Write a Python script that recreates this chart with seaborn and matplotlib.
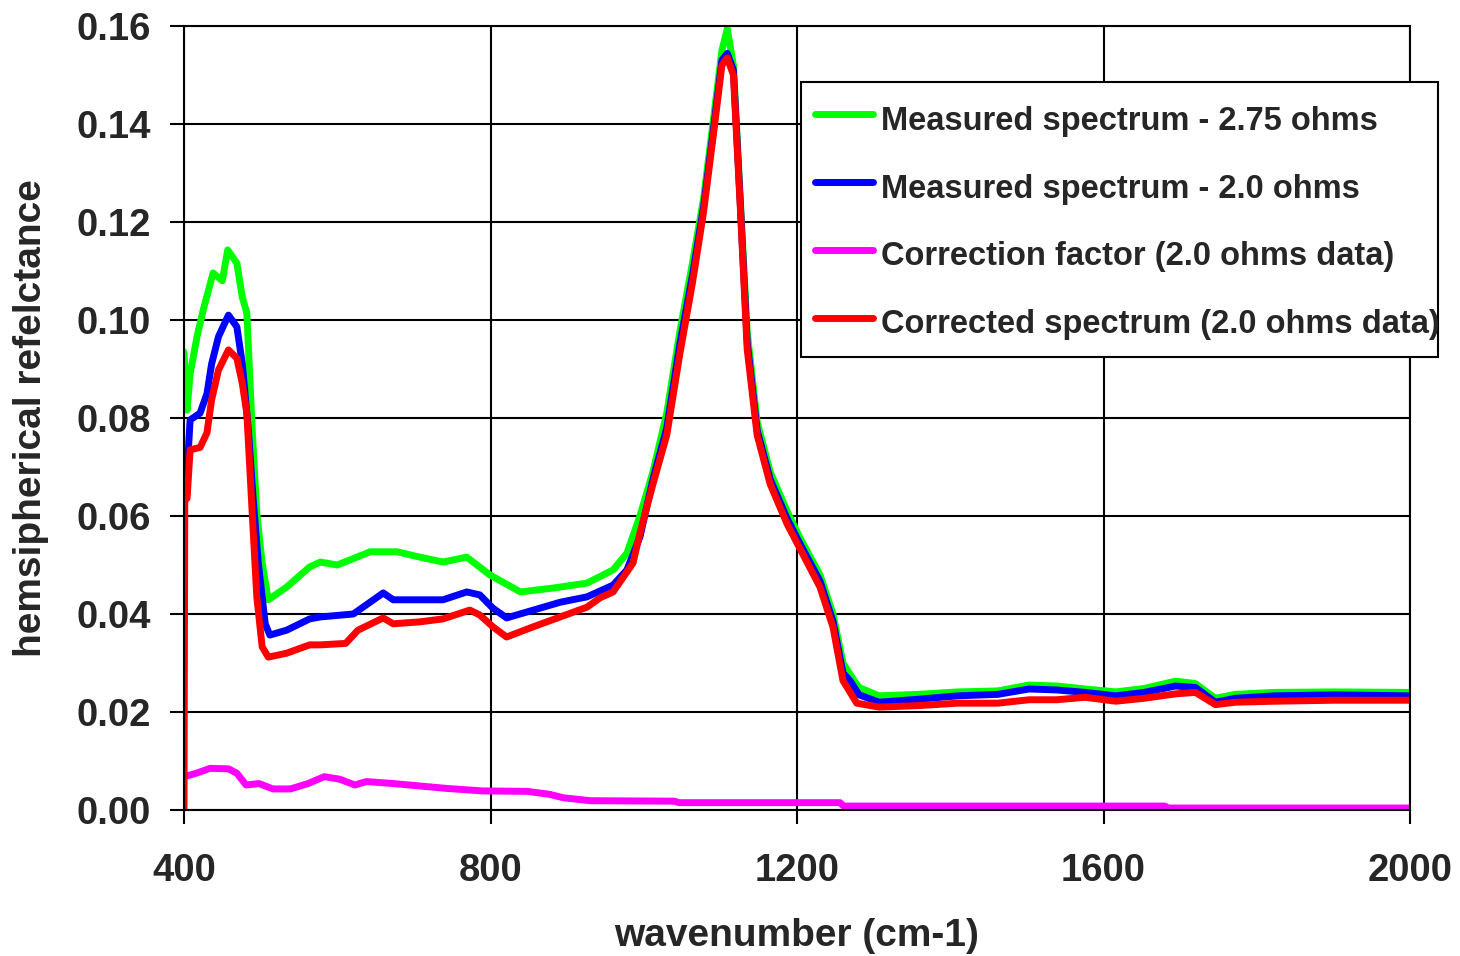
import matplotlib
matplotlib.use("Agg")
import matplotlib.pyplot as plt
from matplotlib.patches import Rectangle
from matplotlib.ticker import FormatStrFormatter
import seaborn as sns
import pandas as pd

# values
green_x = [400, 404, 408, 417, 425, 438, 450, 457, 469, 476, 482, 489, 495, 502, 510,
           534, 564, 578, 600, 643, 678, 708, 738, 769, 799, 839, 882, 926, 960, 978,
           995, 1012, 1030, 1047, 1064, 1078, 1091, 1102, 1109, 1117, 1126, 1135, 1148,
           1165, 1187, 1204, 1230, 1247, 1260, 1270, 1281, 1307, 1358, 1410, 1462, 1503,
           1539, 1576, 1616, 1653, 1694, 1720, 1746, 1772, 1823, 1901, 2000]
green_y = [0.0935, 0.0816, 0.089, 0.0966, 0.102, 0.1096, 0.108, 0.1143, 0.1116, 0.1047,
           0.1014, 0.0776, 0.0606, 0.0504, 0.0429, 0.0455, 0.0496, 0.0506, 0.0500, 0.0527,
           0.0527, 0.0516, 0.0506, 0.0516, 0.0480, 0.0445, 0.0453, 0.0463, 0.0490, 0.0524,
           0.0600, 0.069, 0.081, 0.0975, 0.112, 0.1247, 0.141, 0.155, 0.1594, 0.152,
           0.1247, 0.0976, 0.0792, 0.069, 0.061, 0.0555, 0.048, 0.040, 0.030, 0.0275,
           0.025, 0.0233, 0.0236, 0.0241, 0.0243, 0.0255, 0.0253, 0.0247, 0.0241, 0.0248,
           0.0263, 0.0258, 0.0228, 0.0236, 0.0240, 0.0241, 0.0240]

blue_x = [400, 404, 408, 421, 430, 436, 445, 458, 469, 476, 484, 490, 497, 506, 512,
          534, 564, 578, 621, 660, 673, 708, 738, 769, 786, 803, 821, 856, 891, 926,
          960, 978, 995, 1012, 1030, 1047, 1064, 1078, 1091, 1102, 1109, 1117, 1126,
          1135, 1148, 1165, 1187, 1204, 1230, 1247, 1260, 1270, 1281, 1307, 1358, 1410,
          1462, 1503, 1539, 1576, 1616, 1653, 1694, 1720, 1746, 1772, 1823, 1901, 2000]
blue_y = [0.0655, 0.069, 0.0796, 0.081, 0.085, 0.091, 0.0966, 0.101, 0.0986, 0.0912,
          0.0776, 0.064, 0.0504, 0.038, 0.0357, 0.0367, 0.039, 0.0394, 0.0400, 0.0443,
          0.0429, 0.0429, 0.0429, 0.0445, 0.0439, 0.0412, 0.0392, 0.0408, 0.0424, 0.0435,
          0.0459, 0.0490, 0.0557, 0.0675, 0.078, 0.095, 0.1095, 0.123, 0.139, 0.153,
          0.1544, 0.151, 0.1238, 0.0955, 0.0775, 0.0675, 0.0595, 0.0543, 0.0467, 0.0385,
          0.028, 0.0262, 0.0235, 0.0220, 0.0226, 0.0233, 0.0236, 0.0247, 0.0245, 0.0240,
          0.0233, 0.0240, 0.0253, 0.0250, 0.0220, 0.0228, 0.0233, 0.0235, 0.0233]

magenta_x = [400, 416, 434, 458, 469, 481, 498, 516, 539, 562, 583, 603, 623, 638, 673,
             708, 743, 789, 848, 877, 895, 930, 1040, 1046, 1256, 1261, 1680, 1685, 2000]
magenta_y = [0.0068, 0.0075, 0.0085, 0.0084, 0.0075, 0.0051, 0.0054, 0.0043, 0.0043,
             0.0054, 0.0068, 0.0063, 0.0051, 0.0058, 0.0054, 0.0049, 0.0044, 0.0039,
             0.0038, 0.0032, 0.0025, 0.0019, 0.0018, 0.0015, 0.0015, 0.0008, 0.0008,
             0.0004, 0.0004]

red_x = [400, 401, 404, 408, 421, 430, 436, 445, 458, 469, 476, 482, 489, 495, 502, 510,
         534, 564, 578, 611, 627, 660, 673, 708, 738, 773, 786, 803, 821, 856, 891, 926,
         943, 960, 986, 995, 1012, 1030, 1047, 1064, 1078, 1091, 1102, 1109, 1117, 1126,
         1135, 1148, 1165, 1187, 1204, 1230, 1247, 1260, 1278, 1307, 1358, 1410, 1462,
         1503, 1539, 1576, 1616, 1653, 1694, 1720, 1746, 1772, 1823, 1901, 2000]
red_y = [0.0, 0.0633, 0.0636, 0.0735, 0.074, 0.077, 0.0837, 0.0898, 0.0939, 0.0922,
         0.0871, 0.081, 0.0606, 0.0435, 0.0333, 0.0312, 0.032, 0.0337, 0.0337, 0.0340,
         0.0367, 0.0392, 0.038, 0.0384, 0.0390, 0.0408, 0.0398, 0.0374, 0.0353, 0.0374,
         0.0394, 0.0414, 0.0433, 0.0445, 0.0504, 0.0565, 0.0665, 0.0765, 0.093, 0.108,
         0.122, 0.138, 0.152, 0.1535, 0.150, 0.123, 0.094, 0.0765, 0.0665, 0.0584,
         0.0533, 0.0455, 0.0373, 0.0264, 0.0218, 0.0210, 0.0213, 0.0218, 0.0218, 0.0225,
         0.0225, 0.0230, 0.0222, 0.0228, 0.0237, 0.0240, 0.0215, 0.0220, 0.0222, 0.0224,
         0.0224]

labels = ['Measured spectrum - 2.75 ohms',
          'Measured spectrum - 2.0 ohms',
          'Correction factor (2.0 ohms data)',
          'Corrected spectrum (2.0 ohms data)']
colors = ['#00ff00', '#0000ff', '#ff00ff', '#ff0000']

x_ticks = [400, 800, 1200, 1600, 2000]
y_ticks = [0.00, 0.02, 0.04, 0.06, 0.08, 0.10, 0.12, 0.14, 0.16]


def _series_frame():
    parts = []
    for lab, xs, ys in zip(labels,
                           [green_x, blue_x, magenta_x, red_x],
                           [green_y, blue_y, magenta_y, red_y]):
        parts.append(pd.DataFrame({'wavenumber': xs, 'value': ys, 'series': lab}))
    return pd.concat(parts, ignore_index=True)


sns.set_theme(style="white")
plt.rcParams['font.family'] = ['Liberation Sans', 'DejaVu Sans']
plt.rcParams['font.weight'] = 'bold'

df = _series_frame()

W, H = 1460, 956
fig = plt.figure(figsize=(W / 100, H / 100), dpi=100)
ax = fig.add_axes([184 / W, 1 - 810 / H, 1226 / W, 784 / H])

sns.lineplot(data=df, x='wavenumber', y='value', hue='series', hue_order=labels,
             palette=colors, estimator=None, linewidth=5, ax=ax, legend=False)

ax.set_xlim(400, 2000)
ax.set_ylim(0, 0.16)
ax.set_xticks(x_ticks)
ax.set_yticks(y_ticks)
ax.yaxis.set_major_formatter(FormatStrFormatter('%.2f'))
ax.grid(True, color='black', linewidth=1.5)
ax.set_axisbelow(True)
for sp in ax.spines.values():
    sp.set_color('black')
    sp.set_linewidth(1.5)

ax.tick_params(axis='both', direction='out', length=10, width=1.5, color='black',
               labelsize=27.5)
ax.tick_params(axis='x', pad=21, bottom=True)
ax.tick_params(axis='y', pad=14, left=True)
for t in ax.get_xticklabels() + ax.get_yticklabels():
    t.set_fontweight('bold')

ax.set_xlabel('wavenumber (cm-1)', fontsize=28, fontweight='bold')
ax.set_ylabel('hemsipherical refelctance', fontsize=28, fontweight='bold')
ax.xaxis.set_label_coords(0.5, -0.138)
ax.yaxis.set_label_coords(-0.110, 0.5)

# legend box drawn separately so it can sit exactly where the reference has it
fig.patches.append(Rectangle((801 / W, 1 - 357 / H), 637 / W, 275 / H,
                             transform=fig.transFigure, facecolor='white',
                             edgecolor='black', linewidth=1.5, zorder=1))
handles = [plt.Line2D([], [], color=c, linewidth=5) for c in colors]
fig.legend(handles, labels, loc='upper left',
           bbox_to_anchor=(815 / W, 1 - 99 / H), bbox_transform=fig.transFigure,
           prop={'family': 'Liberation Sans', 'weight': 'bold', 'size': 23.5},
           frameon=False, borderpad=0, handlelength=1.78, handleheight=1.5,
           handletextpad=0.25, labelspacing=0.86, borderaxespad=0)

fig.savefig('out.png', dpi=100, facecolor='white')
